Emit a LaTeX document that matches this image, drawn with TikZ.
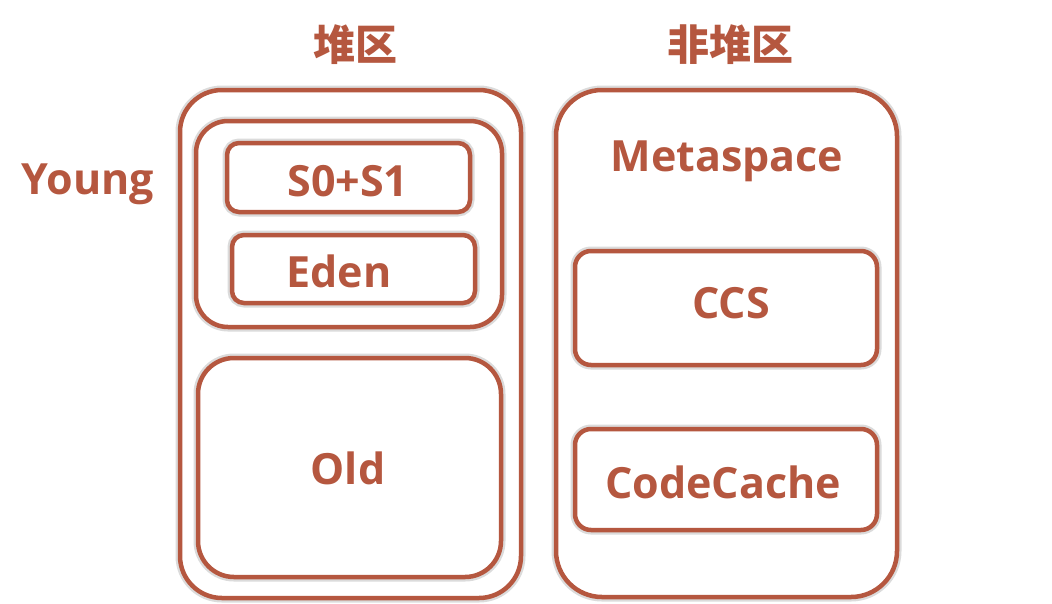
\documentclass[tikz,border=0pt]{standalone}
\usepackage{fontspec}
\setmainfont{Open Sans}
\newfontfamily\cjk{Noto Sans CJK SC}
\definecolor{brick}{HTML}{B5573F}
\begin{document}
\begin{tikzpicture}[x=1pt, y=-1pt,
        region/.style={draw=brick, line width=4.5pt, fill=white, rounded corners=#1,
            preaction={draw=black!14, line width=9pt}},
        region/.default=40pt,
        tag/.style={text=brick, font=\fontsize{43}{47}\selectfont\bfseries},
        title/.style={text=brick, font=\cjk\fontsize{42}{46}\selectfont\bfseries},
    ]
	\useasboundingbox (0,0) rectangle (1052,603);
	% heap
	\path[region=42pt] (180,90) rectangle (521,598);
	\path[region=32pt] (196,121) rectangle (502,327);
	\path[region=12pt] (227,143) rectangle (470,212);
	\path[region=12pt] (232,235) rectangle (475,303);
	\path[region=36pt] (198,358) rectangle (501,577);
	% non-heap
	\path[region=46pt] (556,90) rectangle (897,597);
	\path[region=16pt] (575,251) rectangle (877,365);
	\path[region=16pt] (575,429) rectangle (877,530);
	% labels
	\node[title] (heaplabel) at (355,45) {堆区};
	\node[title] (nonheaplabel) at (730,45) {非堆区};
	\node[tag] (younglabel) at (88,184) {Young};
	\node[tag] (surv) at (348,181) {S0+S1};
	\node[tag] (eden) at (339,271) {Eden};
	\node[tag] (old) at (348,468) {Old};
	\node[tag] (meta) at (727,161) {Metaspace};
	\node[tag] (ccs) at (731,303) {CCS};
	\node[tag] (codecache) at (723,482) {CodeCache};
\end{tikzpicture}
\end{document}
